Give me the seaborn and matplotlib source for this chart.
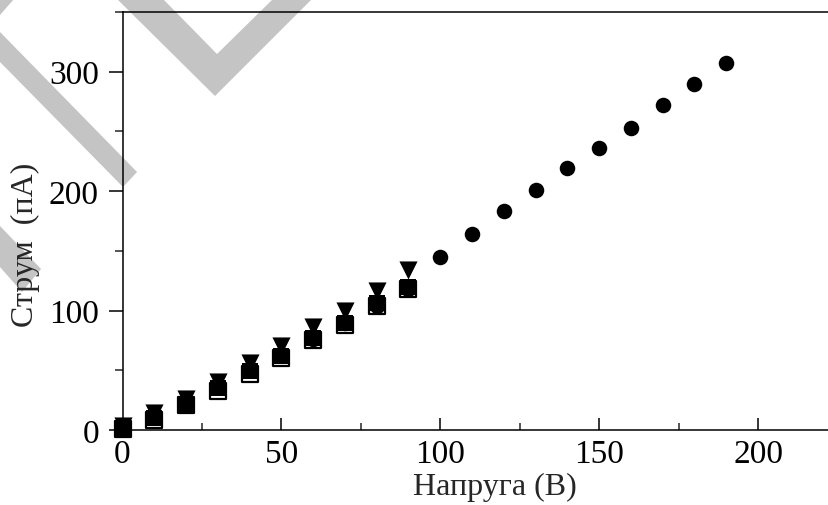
import numpy as np
import pandas as pd
import matplotlib
matplotlib.use("Agg")
import matplotlib.pyplot as plt
from matplotlib.patches import Polygon
from matplotlib.ticker import MultipleLocator
import seaborn as sns

sns.set_style("ticks")
plt.rcParams['font.family'] = ['Liberation Serif', 'DejaVu Serif']

# data
volts_long = [0, 10, 20, 30, 40, 50, 60, 70, 80, 90, 100, 110, 120, 130, 140, 150, 160, 170, 180, 190]
current_circ = [2, 12, 24, 37, 50, 63, 76, 90, 104, 118, 145, 164, 183, 201, 219, 236, 253, 272, 290, 307]

volts_short = [0, 10, 20, 30, 40, 50, 60, 70, 80, 90]
current_sq = [2, 10, 22, 35, 49, 62, 77, 90, 106, 120]
current_open = [1, 8, 21, 33, 47, 60, 75, 88, 104, 118]
current_tri = [3, 14, 26, 40, 56, 70, 86, 100, 116, 134]

x_ticks = [0, 50, 100, 150, 200]
y_ticks = [0, 100, 200, 300]

circ_df = pd.DataFrame({'V': volts_long, 'I': current_circ})
sq_df = pd.DataFrame({'V': volts_short, 'I': current_sq})
open_df = pd.DataFrame({'V': volts_short, 'I': current_open})
tri_df = pd.DataFrame({'V': volts_short, 'I': current_tri})

W, H = 829, 506
fig = plt.figure(figsize=(W / 100, H / 100), dpi=100)

# grey watermark behind everything (pixel coords, origin top-left)
wm_shapes = [
    [(0, 33), (137, 173), (123, 188), (0, 63)],
    [(117, 0), (215, 97), (312, 0), (273, 0), (217, 55), (163, 0)],
    [(0, 227), (41, 270), (22, 293), (0, 268)],
    [(0, 0), (14, 0), (0, 16)],
]
for shp in wm_shapes:
    pts = [(x / W, 1 - y / H) for x, y in shp]
    fig.add_artist(Polygon(pts, closed=True, facecolor='#c4c4c4', edgecolor='none',
                           transform=fig.transFigure, zorder=-5))

ax = fig.add_axes([122.5 / W, 75 / H, 715 / W, 418 / H])
ax.patch.set_alpha(0)

sns.scatterplot(data=open_df, x='V', y='I', marker='s', s=120, facecolor='white',
                edgecolor='black', linewidth=1.6, ax=ax, clip_on=False, zorder=3)
sns.scatterplot(data=circ_df, x='V', y='I', marker='o', s=125, color='black',
                linewidth=0, ax=ax, clip_on=False, zorder=4)
sns.scatterplot(data=sq_df, x='V', y='I', marker='s', s=130, color='black',
                linewidth=0, ax=ax, clip_on=False, zorder=5)
sns.scatterplot(data=tri_df, x='V', y='I', marker='v', s=170, color='black',
                linewidth=0, ax=ax, clip_on=False, zorder=6)

ax.set_xlim(0, 225)
ax.set_ylim(0, 350)
ax.set_xticks(x_ticks)
ax.set_yticks(y_ticks)
ax.xaxis.set_minor_locator(MultipleLocator(25))
ax.yaxis.set_minor_locator(MultipleLocator(50))

ax.spines['right'].set_visible(False)
for sp in ['left', 'top', 'bottom']:
    ax.spines[sp].set_linewidth(1.1)
    ax.spines[sp].set_color('black')

ax.tick_params(axis='x', which='major', direction='in', length=8.5, width=1.1,
               pad=6, labelsize=24, colors='black')
ax.tick_params(axis='x', which='minor', direction='in', length=5, width=1.1)
ax.tick_params(axis='y', which='major', direction='out', length=10, width=1.1,
               pad=7, labelsize=24, colors='black')
ax.tick_params(axis='y', which='minor', direction='out', length=5.5, width=1.1)

ax.set_xlabel('Напруга (В)', fontsize=23)
ax.set_ylabel('Струм  (пА)', fontsize=23)
ax.xaxis.set_label_coords(0.521, -0.1)
ax.yaxis.set_label_coords(-0.115, 0.445)

fig.savefig('out.png', dpi=100)
